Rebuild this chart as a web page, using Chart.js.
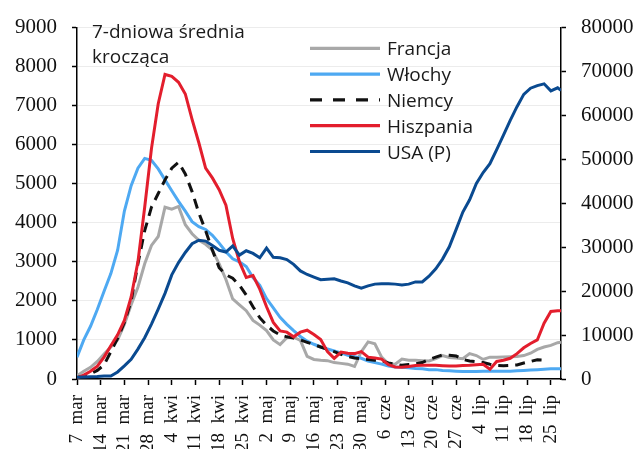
<!DOCTYPE html>
<html><head><meta charset="utf-8">
<script src="https://cdn.jsdelivr.net/npm/chart.js@4.4.1/dist/chart.umd.min.js"></script>
<style>html,body{margin:0;padding:0;background:#fff}#wrap{width:641px;height:449px}</style>
</head><body><div id="wrap"><canvas id="c" width="641" height="449"></canvas></div>
<script>
// day index counted from 7 March
const days = [0,2,4,6,8,10,12,14,16,18,20,22,24,26,28,30,32,34,36,38,40,42,44,46,48,50,52,54,56,58,60,62,64,66,68,70,72,74,76,78,80,82,84,86,88,90,92,94,96,98,100,102,104,106,108,110,112,114,116,118,120,122,124,126,128,130,132,134,136,138,140,142,143];
const tickDays = [0,7,14,21,28,35,42,49,56,63,70,77,84,91,98,105,112,119,126,133,140];
const tickLabels = ['7 mar','14 mar','21 mar','28 mar','4 kwi','11 kwi','18 kwi','25 kwi','2 maj','9 maj','16 maj','23 maj','30 maj','6 cze','13 cze','20 cze','27 cze','4 lip','11 lip','18 lip','25 lip'];
const seriesNames = ['Francja','Włochy','Niemcy','Hiszpania','USA (P)'];
const noteLines = ['7-dniowa średnia','krocząca'];

const francja = [80,200,300,450,640,820,1000,1400,1900,2350,
 2950,3420,3650,4400,4350,4420,3950,3720,3550,3450,
 3300,2950,2550,2050,1900,1750,1500,1380,1240,1000,
 880,1060,1070,990,580,500,480,470,420,400,
 380,320,700,950,900,560,390,380,510,480,
 480,470,460,520,600,550,540,520,650,600,
 500,560,560,565,570,575,600,660,760,820,
 860,930,940];
const wlochy = [560,1000,1350,1780,2250,2700,3300,4300,4950,5400,
 5650,5600,5380,5100,4820,4550,4300,4030,3900,3830,
 3680,3480,3260,3080,3000,2880,2600,2400,2060,1820,
 1580,1400,1240,1090,970,890,820,770,720,670,
 610,570,530,460,420,380,330,310,300,290,
 270,260,240,240,220,210,200,190,190,190,
 200,200,200,200,200,210,220,230,240,250,
 260,265,265];
const niemcy = [40,80,130,220,360,700,1040,1450,2000,2950,
 3800,4400,4750,5100,5400,5550,5250,4800,4250,3800,
 3300,2850,2670,2580,2400,2150,1850,1570,1380,1230,
 1130,1080,1050,1000,940,880,820,760,700,630,
 580,540,520,500,480,470,410,380,350,370,
 390,420,500,560,620,610,590,500,460,440,
 420,380,350,340,350,360,410,450,490,480,
 null,null,null];
const hiszpania = [30,100,200,330,560,850,1130,1500,2100,3000,
 4400,5900,7050,7800,7750,7600,7300,6650,6050,5400,
 5150,4850,4450,3600,3000,2600,2650,2300,1850,1450,
 1230,1200,1080,1200,1250,1140,1010,700,530,690,
 660,650,700,560,540,510,370,310,300,320,
 345,350,350,350,340,330,330,345,350,365,
 375,250,450,480,530,650,800,910,1000,1430,
 1730,1750,1750];
const usa = [400,450,500,550,700,700,1600,3000,4500,6800,
 9400,12500,15900,19500,23700,26500,28800,30800,31600,31400,
 30400,29300,28900,30300,28200,29200,28600,27600,29800,27700,
 27600,27200,26100,24600,23800,23200,22600,22700,22800,22300,
 21900,21200,20700,21200,21600,21700,21700,21600,21400,21600,
 22100,22100,23400,25100,27300,30100,34000,38000,40800,44500,
 47000,49000,52200,55500,58900,62000,64800,66200,66800,67200,
 65600,66300,65700];

function pts(arr){ return days.map((d,i)=>({x:d,y:arr[i]})); }

const legendPlugin = {
  id:'customLegend',
  afterDraw(chart){
    const ctx = chart.ctx; ctx.save();
    const ds = chart.data.datasets;
    ds.forEach((d,i)=>{
      const y = 48.3 + i*25.8;
      ctx.strokeStyle = d.borderColor; ctx.lineWidth = 3.2;
      ctx.setLineDash(d.legendDash || []);
      ctx.lineCap = 'butt';
      ctx.beginPath(); ctx.moveTo(310,y); ctx.lineTo(380,y); ctx.stroke();
      ctx.setLineDash([]);
      ctx.fillStyle = '#1a1a1a';
      ctx.font = '19px "Open Sans"';
      ctx.textBaseline = 'alphabetic';
      ctx.fillText(d.label, 387, y + 7);
    });
    ctx.font = '19px "Open Sans"';
    ctx.fillStyle = '#1a1a1a';
    ctx.fillText(noteLines[0], 92, 38);
    ctx.fillText(noteLines[1], 92, 63);
    ctx.restore();
  }
};

const tickFontY = {family:'"Liberation Serif"', size:21};
new Chart(document.getElementById('c'), {
  type:'line',
  data:{datasets:[
    {label:seriesNames[0], data:pts(francja), borderColor:'#a8a8a8', order:4},
    {label:seriesNames[1], data:pts(wlochy), borderColor:'#4ea9f2', order:3},
    {label:seriesNames[2], data:pts(niemcy), borderColor:'#111111', borderDash:[10,7], legendDash:[12,11], order:2},
    {label:seriesNames[3], data:pts(hiszpania), borderColor:'#e31e2d', order:1},
    {label:seriesNames[4], data:pts(usa), borderColor:'#0a4a90', yAxisID:'y1', order:0}
  ]},
  options:{
    responsive:false, animation:false,
    layout:{padding:{top:21,left:0,right:0,bottom:0}},
    plugins:{legend:{display:false}, tooltip:{enabled:false}},
    elements:{point:{radius:0}, line:{tension:0, borderWidth:3, fill:false}},
    scales:{
      x:{type:'linear', min:0, max:143,
        afterBuildTicks:s=>{ s.ticks = tickDays.map(v=>({value:v})); },
        afterFit:s=>{ s.height = 70; },
        ticks:{autoSkip:false, minRotation:90, maxRotation:90, padding:10, color:'#111',
          font:{family:'"Liberation Serif"', size:19},
          callback:(v)=>{ const t = tickLabels[tickDays.indexOf(v)]; return t ? t.replace(' ', '\u2002') : ''; }},
        grid:{drawOnChartArea:false, drawTicks:true, tickLength:6, tickColor:'#000', tickWidth:1.5},
        border:{color:'#000', width:1.5}
      },
      y:{position:'left', min:0, max:9000,
        afterFit:s=>{ s.width = 77; },
        ticks:{stepSize:1000, padding:15, color:'#111', font:tickFontY, callback:v=>String(v)},
        grid:{color:'#ececec', lineWidth:1, tickColor:'#000', tickLength:5, tickWidth:1.5},
        border:{color:'#000', width:1.5}
      },
      y1:{position:'right', min:0, max:80000,
        afterFit:s=>{ s.width = 80; },
        ticks:{stepSize:10000, padding:15, color:'#111', font:tickFontY, callback:v=>String(v)},
        grid:{drawOnChartArea:false, tickColor:'#000', tickLength:5, tickWidth:1.5},
        border:{color:'#000', width:1.5}
      }
    }
  },
  plugins:[legendPlugin]
});
</script>
</body></html>
